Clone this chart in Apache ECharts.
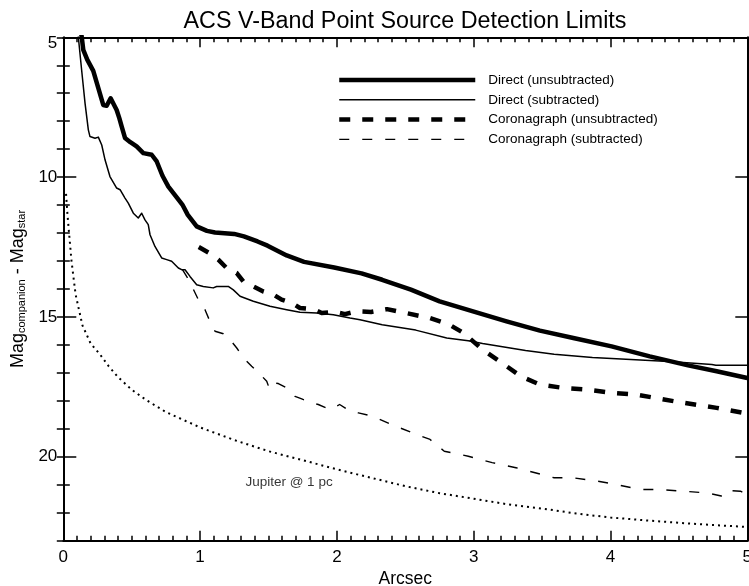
<!DOCTYPE html>
<html>
<head>
<meta charset="utf-8">
<script src="https://cdn.jsdelivr.net/npm/echarts@6/dist/echarts.min.js"></script>
<style>
html,body{margin:0;padding:0;background:#fff;}
#chart{width:749px;height:586px;}
</style>
</head>
<body>
<div id="chart"></div>
<script>
// ---------- data (x = arcsec, y = Mag_companion - Mag_star) ----------
const xTicks = [0, 1, 2, 3, 4, 5];
const yTicks = [5, 10, 15, 20];

const seriesNames = [
  'Direct (unsubtracted)',
  'Direct (subtracted)',
  'Coronagraph (unsubtracted)',
  'Coronagraph (subtracted)'
];

const directUnsub = [
  [0.12, 4.5], [0.135, 5.0], [0.146, 5.45], [0.175, 5.8], [0.219, 6.2], [0.255, 6.8],
  [0.292, 7.42], [0.317, 7.45], [0.346, 7.18], [0.39, 7.6], [0.41, 7.9], [0.427, 8.19],
  [0.451, 8.6], [0.49, 8.75], [0.536, 8.9], [0.585, 9.14], [0.646, 9.2], [0.683, 9.44],
  [0.725, 9.95], [0.768, 10.34], [0.829, 10.72], [0.87, 10.98], [0.91, 11.35], [0.975, 11.76],
  [1.05, 11.92], [1.109, 11.98], [1.249, 12.03], [1.32, 12.12], [1.42, 12.3], [1.493, 12.45],
  [1.633, 12.8], [1.76, 13.03], [1.98, 13.23], [2.18, 13.44], [2.331, 13.67], [2.541, 14.02],
  [2.751, 14.44], [2.995, 14.8], [3.24, 15.16], [3.484, 15.49], [3.728, 15.75], [4.008, 16.05],
  [4.287, 16.41], [4.567, 16.73], [4.776, 16.94], [5.0, 17.18]
];

const directSub = [
  [0.105, 4.5], [0.11, 5.0], [0.134, 6.17], [0.159, 7.36], [0.183, 8.31], [0.195, 8.55],
  [0.232, 8.61], [0.256, 8.57], [0.281, 8.85], [0.305, 9.38], [0.341, 9.98], [0.39, 10.39],
  [0.415, 10.45], [0.451, 10.75], [0.475, 10.93], [0.512, 11.29], [0.548, 11.46], [0.573, 11.29],
  [0.597, 11.53], [0.621, 11.7], [0.634, 12.06], [0.67, 12.48], [0.719, 12.89], [0.756, 12.95],
  [0.792, 13.01], [0.841, 13.25], [0.865, 13.31], [0.89, 13.31], [0.926, 13.55], [0.975, 13.85],
  [1.023, 13.91], [1.096, 13.96], [1.121, 13.91], [1.206, 13.91], [1.243, 14.03], [1.292, 14.26],
  [1.389, 14.44], [1.511, 14.62], [1.633, 14.74], [1.73, 14.83], [1.852, 14.86], [1.974, 14.92],
  [2.096, 15.04], [2.169, 15.1], [2.331, 15.28], [2.576, 15.47], [2.803, 15.75], [2.96, 15.85],
  [3.065, 15.95], [3.379, 16.2], [3.588, 16.33], [3.868, 16.45], [4.183, 16.53], [4.427, 16.59],
  [4.741, 16.7], [4.77, 16.73], [5.0, 16.73]
];

const coroUnsub = [
  [0.99, 12.5], [1.07, 12.72], [1.133, 12.95], [1.194, 13.25], [1.268, 13.43], [1.316, 13.73],
  [1.389, 13.91], [1.462, 14.09], [1.535, 14.2], [1.596, 14.38], [1.67, 14.5], [1.73, 14.68],
  [1.827, 14.72], [1.889, 14.86], [1.986, 14.82], [2.059, 14.9], [2.14, 14.8], [2.25, 14.82],
  [2.366, 14.72], [2.506, 14.86], [2.68, 15.04], [2.82, 15.27], [2.925, 15.57], [3.065, 16.17],
  [3.205, 16.64], [3.344, 17.12], [3.484, 17.42], [3.659, 17.54], [3.833, 17.6], [4.008, 17.71],
  [4.183, 17.77], [4.46, 18.01], [4.776, 18.25], [4.97, 18.43], [5.0, 18.5]
];

const coroSub = [
  [0.87, 13.3], [0.92, 13.7], [0.987, 14.38], [1.036, 14.74], [1.072, 15.16], [1.109, 15.51],
  [1.17, 15.6], [1.219, 15.81], [1.268, 16.11], [1.316, 16.46], [1.377, 16.76], [1.425, 16.98],
  [1.487, 17.3], [1.505, 17.54], [1.523, 17.35], [1.572, 17.38], [1.633, 17.54], [1.694, 17.84],
  [1.743, 17.93], [1.816, 18.07], [1.864, 18.13], [1.95, 18.31], [2.02, 18.13], [2.096, 18.37],
  [2.157, 18.43], [2.262, 18.55], [2.401, 18.85], [2.541, 19.12], [2.681, 19.38], [2.785, 19.8],
  [2.96, 19.98], [3.135, 20.21], [3.309, 20.39], [3.449, 20.57], [3.588, 20.75], [3.728, 20.75],
  [3.903, 20.87], [4.042, 20.99], [4.217, 21.17], [4.357, 21.17], [4.531, 21.23], [4.706, 21.29],
  [4.81, 21.4], [4.85, 21.2], [4.95, 21.23], [5.0, 21.35]
];

const jupiter = [
  [0.02, 10.6], [0.03, 11.3], [0.042, 12.0], [0.06, 13.0], [0.09, 14.2], [0.14, 15.3],
  [0.2, 15.95], [0.27, 16.35], [0.33, 16.75], [0.4, 17.15], [0.5, 17.6], [0.6, 17.95],
  [0.75, 18.4], [1.0, 18.95], [1.25, 19.4], [1.5, 19.8], [1.75, 20.12], [2.0, 20.45],
  [2.25, 20.75], [2.5, 21.05], [2.75, 21.3], [3.0, 21.5], [3.25, 21.7], [3.5, 21.85],
  [3.75, 22.03], [4.0, 22.17], [4.25, 22.27], [4.5, 22.36], [4.75, 22.44], [5.0, 22.51]
];

const jupiterLabel = 'Jupiter @ 1 pc';
const jupiterLabelAt = [[1.65, 20.9]];

const titleText = 'ACS V-Band Point Source Detection Limits';
const xName = 'Arcsec';
const yName = 'Mag{sub|companion} - Mag{sub|star}';

// ---------- chart ----------
const FONT = "'Liberation Sans', Arial, Helvetica, sans-serif";
const chart = echarts.init(document.getElementById('chart'), null, {renderer: 'canvas'});

function lineSeries(name, data, width, type) {
  return {
    name: name, type: 'line', data: data, xAxisIndex: 0, yAxisIndex: 0,
    symbol: 'none', showSymbol: false, smooth: false,
    lineStyle: {color: '#000', width: width, type: type, cap: 'butt', join: 'round'},
    itemStyle: {color: '#000'},
    z: 3
  };
}

const axisLineStyle = {color: '#000', width: 2};

const option = {
  animation: false,
  backgroundColor: '#fff',
  title: {
    text: titleText, left: 405, top: 10, padding: 0, textAlign: 'center',
    textStyle: {fontFamily: FONT, fontSize: 23.3, fontWeight: 'normal', color: '#000'}
  },
  legend: {
    data: seriesNames, orient: 'vertical', left: 337, top: 73, padding: 0,
    itemWidth: 136, itemHeight: 14, itemGap: 5.8,
    itemStyle: {opacity: 0},
    lineStyle: {width: 'inherit', type: 'inherit', color: '#000'},
    textStyle: {fontFamily: FONT, fontSize: 13.5, color: '#000', padding: [0, 0, 6, 8]},
    selectedMode: false
  },
  grid: {left: 63.3, right: 1.7, top: 37.3, bottom: 45.3, containLabel: false, outerBoundsMode: 'none'},
  xAxis: [
    {
      type: 'value', position: 'bottom', min: xTicks[0], max: xTicks[xTicks.length - 1], interval: 1,
      name: xName, nameLocation: 'middle', nameGap: 29,
      nameTextStyle: {fontFamily: FONT, fontSize: 17.5, color: '#000'},
      axisLine: {show: true, onZero: false, lineStyle: axisLineStyle},
      axisTick: {show: true, inside: true, length: 10, lineStyle: {color: '#000', width: 1.5}},
      minorTick: {show: true, splitNumber: 10, length: 5, lineStyle: {color: '#000', width: 1.5}},
      axisLabel: {show: true, margin: 8, fontFamily: FONT, fontSize: 17, color: '#000'},
      splitLine: {show: false}, minorSplitLine: {show: false}
    },
    {
      type: 'value', position: 'top', min: xTicks[0], max: xTicks[xTicks.length - 1], interval: 1,
      axisLine: {show: true, onZero: false, lineStyle: axisLineStyle},
      axisTick: {show: true, inside: true, length: 10, lineStyle: {color: '#000', width: 1.5}},
      minorTick: {show: true, splitNumber: 10, length: 5, lineStyle: {color: '#000', width: 1.5}},
      axisLabel: {show: false}, splitLine: {show: false}
    }
  ],
  yAxis: [
    {
      type: 'value', position: 'left', inverse: true, min: 5, max: 23, interval: 5,
      name: yName, nameLocation: 'middle', nameGap: 33,
      nameTextStyle: {
        fontFamily: FONT, fontSize: 18, color: '#000',
        rich: {sub: {fontFamily: FONT, fontSize: 11, color: '#000', verticalAlign: 'bottom'}}
      },
      axisLine: {show: true, onZero: false, lineStyle: axisLineStyle},
      axisTick: {show: true, inside: true, length: 13, lineStyle: {color: '#000', width: 1.5}},
      axisLabel: {
        show: true, margin: 6, fontFamily: FONT, fontSize: 17, color: '#000', showMaxLabel: false,
        formatter: function (v) {
          if (yTicks.indexOf(v) < 0) return '';
          if (v === yTicks[0]) return '{first|' + v + '}';
          return String(v);
        },
        rich: {first: {fontFamily: FONT, fontSize: 17, color: '#000', padding: [13, 0, 0, 0]}}
      },
      splitLine: {show: false}
    },
    {
      type: 'value', position: 'left', inverse: true, min: 5, max: 23, interval: 1,
      axisLine: {show: false},
      axisTick: {show: true, inside: true, length: 6.5, lineStyle: {color: '#000', width: 1.5}},
      axisLabel: {show: false}, splitLine: {show: false}
    },
    {
      type: 'value', position: 'right', inverse: true, min: 5, max: 23, interval: 5,
      axisLine: {show: true, onZero: false, lineStyle: axisLineStyle},
      axisTick: {show: true, inside: true, length: 12, lineStyle: {color: '#000', width: 1.5}},
      axisLabel: {show: false}, splitLine: {show: false}
    },
    {
      type: 'value', position: 'right', inverse: true, min: 5, max: 23, interval: 1,
      axisLine: {show: false},
      axisTick: {show: true, inside: true, length: 6.5, lineStyle: {color: '#000', width: 1.5}},
      axisLabel: {show: false}, splitLine: {show: false}
    }
  ],
  series: [
    lineSeries(seriesNames[0], directUnsub, 4.5, 'solid'),
    lineSeries(seriesNames[1], directSub, 1.5, 'solid'),
    lineSeries(seriesNames[2], coroUnsub, 4.5, [11, 12]),
    lineSeries(seriesNames[3], coroSub, 1.4, [10, 13]),
    lineSeries('Jupiter', jupiter, 2, [2, 4]),
    {
      name: 'JupiterLabel', type: 'scatter', data: jupiterLabelAt, xAxisIndex: 0, yAxisIndex: 0,
      symbolSize: 0, silent: true,
      label: {
        show: true, position: 'inside', formatter: jupiterLabel,
        fontFamily: FONT, fontSize: 13.5, color: '#000'
      }
    }
  ]
};

chart.setOption(option);
</script>
</body>
</html>
